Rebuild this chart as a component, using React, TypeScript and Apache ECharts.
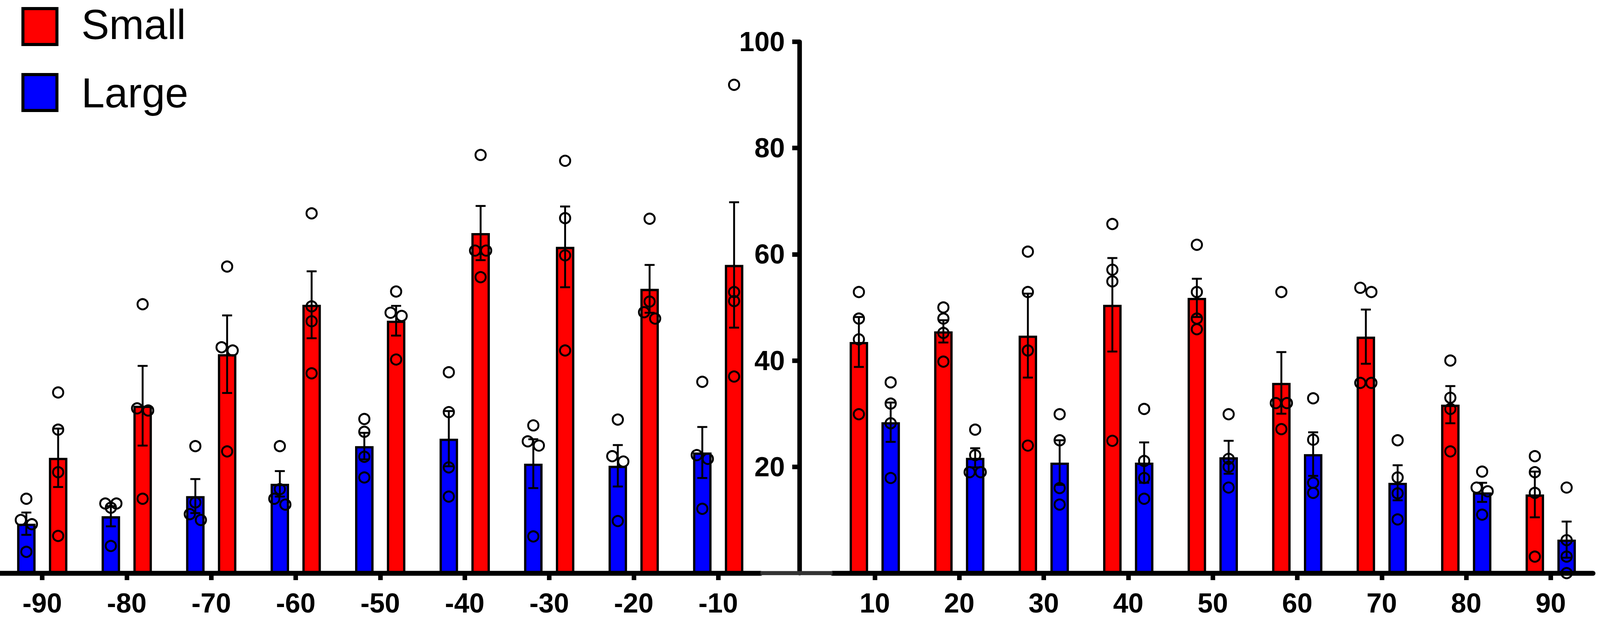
import React, { useEffect, useRef } from 'react';
import * as echarts from 'echarts';

// ---------- data ----------
const leftCategories = ['-90', '-80', '-70', '-60', '-50', '-40', '-30', '-20', '-10'];
const rightCategories = ['10', '20', '30', '40', '50', '60', '70', '80', '90'];
const yTickValues = [20, 40, 60, 80, 100];

// left half (-90 .. -10): Large bar first, then Small
const largeMeanLeft = [9.3, 10.7, 14.5, 16.8, 23.9, 25.3, 20.6, 20.2, 22.7];
const largeSemLeft = [2.1, 1.9, 3.2, 2.4, 2.5, 5.2, 4.6, 3.9, 4.8];
const smallMeanLeft = [21.7, 31.5, 41.2, 50.5, 47.5, 64.0, 61.4, 53.5, 58.0];
const smallSemLeft = [5.5, 7.5, 7.3, 6.3, 2.8, 5.1, 7.6, 4.5, 11.8];

const largePointsLeft = [
  [14, 10, 9.2, 4],
  [13.1, 13.1, 12.3, 5.1],
  [23.9, 13.3, 11.1, 10],
  [23.9, 15.8, 14, 12.9],
  [29, 26.6, 21.9, 18],
  [37.8, 30.3, 19.9, 14.4],
  [27.8, 24.8, 24, 6.9],
  [28.9, 22, 21, 9.8],
  [36, 22.2, 21.5, 12.1],
];
const smallPointsLeft = [
  [34, 27, 19, 7],
  [50.6, 31, 30.6, 14],
  [57.7, 42.5, 41.9, 22.9],
  [67.7, 50.2, 47.4, 37.6],
  [53, 49, 48.4, 40.2],
  [78.7, 60.7, 60.7, 55.7],
  [77.6, 66.8, 59.8, 41.9],
  [66.7, 51.1, 49.1, 47.9],
  [91.9, 52.9, 51.2, 37],
];

// right half (10 .. 90): Small bar first, then Large
const smallMeanRight = [43.5, 45.5, 44.7, 50.5, 51.8, 35.8, 44.5, 31.7, 14.8];
const smallSemRight = [4.7, 2.1, 7.9, 8.8, 3.6, 5.8, 5.1, 3.5, 4.3];
const largeMeanRight = [28.4, 21.7, 20.8, 20.8, 21.8, 22.4, 17.0, 15.2, 6.3];
const largeSemRight = [3.7, 1.8, 4.2, 3.8, 3.1, 4.1, 3.3, 1.8, 3.4];

const smallPointsRight = [
  [52.9, 47.9, 44, 29.9],
  [50, 47.9, 45.2, 39.8],
  [60.5, 52.9, 41.9, 24],
  [65.7, 57.1, 54.9, 24.9],
  [61.8, 52.9, 47.9, 45.9],
  [52.9, 32, 32, 27.1],
  [53.7, 52.9, 35.8, 35.8],
  [40, 33, 30.9, 22.9],
  [22, 19, 15.1, 3.1],
];
const largePointsRight = [
  [35.9, 31.9, 28.2, 17.9],
  [27, 22.2, 19, 19],
  [29.9, 25, 16, 12.9],
  [30.9, 21.1, 17.9, 14],
  [29.9, 21.5, 20, 16.1],
  [32.9, 25.1, 17, 15.1],
  [25, 18, 15, 10.1],
  [19.1, 16.1, 15.4, 11],
  [16.1, 6.2, 3.1, 0],
];

// ---------- styling constants (designed for a 4328 x 1583 canvas) ----------
const RED = '#ff0000';
const BLUE = '#0000ff';
const FONT = '"Liberation Sans", Arial, Helvetica, sans-serif';
const DW = 4328;
const DH = 1583;

function dodgeOffsets(vals: number[]): number[] {
  const order = vals.map((_, i) => i).sort((a, b) => vals[b] - vals[a]);
  const out = new Array(vals.length).fill(0);
  let cluster: number[] = [];
  const flush = () => {
    const n = cluster.length;
    const pattern = n === 1 ? [0] : n === 2 ? [-15, 15] : n === 3 ? [-15, 15, 0] : [-15, 15, -15, 15];
    cluster.forEach((ii, k) => (out[ii] = pattern[k] ?? 0));
    cluster = [];
  };
  order.forEach((ii) => {
    if (cluster.length && vals[cluster[cluster.length - 1]] - vals[ii] >= 1.3) flush();
    cluster.push(ii);
  });
  if (cluster.length) flush();
  return out;
}

function pointData(groups: number[][]) {
  const data: number[][] = [];
  groups.forEach((vals, i) => {
    const d = dodgeOffsets(vals);
    vals.forEach((v, k) => data.push([i, v, d[k]]));
  });
  return data;
}

function errData(means: number[], sems: number[]) {
  return means.map((m, i) => [i, m, sems[i]]);
}

function buildOption(kx: number, ky: number) {
  const k = (kx + ky) / 2;
  const X = (v: number) => v * kx;
  const Y = (v: number) => v * ky;
  const S = (v: number) => v * k;

  const GRID_TOP = Y(107);
  const GRID_BOTTOM = Y(115);
  const LEFT_GRID_LEFT = X(0);
  const GRID_WIDTH = X(2057);
  const RIGHT_GRID_LEFT = X(2252);
  const Y_AXIS_X = X(2163);
  const BAR_OFFSET = X(43);

  const barSeries = (name: string, color: string, data: number[], axis: number) => ({
    type: 'bar',
    name,
    xAxisIndex: axis,
    yAxisIndex: axis,
    data,
    barWidth: X(50),
    barGap: '72%',
    z: 2,
    itemStyle: { color, borderColor: '#000', borderWidth: S(6) },
  });

  const errSeries = (means: number[], sems: number[], axis: number, offset: number) => ({
    type: 'custom',
    xAxisIndex: axis,
    yAxisIndex: axis,
    z: 3,
    silent: true,
    dimensions: ['x', 'y', 'e'],
    encode: { x: 0, y: 1 },
    data: errData(means, sems),
    renderItem: (params: any, api: any) => {
      const i = api.value(0);
      const m = api.value(1);
      const e = api.value(2);
      const x = api.coord([i, m])[0] + offset;
      const yt = api.coord([i, m + e])[1];
      const yb = api.coord([i, m - e])[1];
      const st = { stroke: '#000', lineWidth: S(5) };
      const cap = X(13.5);
      return {
        type: 'group',
        children: [
          { type: 'line', shape: { x1: x, y1: yt, x2: x, y2: yb }, style: st },
          { type: 'line', shape: { x1: x - cap, y1: yt, x2: x + cap, y2: yt }, style: st },
          { type: 'line', shape: { x1: x - cap, y1: yb, x2: x + cap, y2: yb }, style: st },
        ],
      };
    },
  });

  const pointSeries = (groups: number[][], axis: number, offset: number) => ({
    type: 'custom',
    xAxisIndex: axis,
    yAxisIndex: axis,
    z: 4,
    silent: true,
    dimensions: ['x', 'y', 'd'],
    encode: { x: 0, y: 1 },
    data: pointData(groups),
    renderItem: (params: any, api: any) => {
      const p = api.coord([api.value(0), api.value(1)]);
      return {
        type: 'circle',
        shape: { cx: p[0] + offset + X(api.value(2)), cy: p[1], r: S(13.5) },
        style: { fill: 'none', stroke: '#000', lineWidth: S(5) },
      };
    },
  });

  const xAxis = (gridIndex: number, data: string[]) => ({
    type: 'category',
    gridIndex,
    data,
    boundaryGap: true,
    axisLine: { show: true, lineStyle: { color: '#000', width: S(13) } },
    axisTick: {
      show: true,
      alignWithLabel: true,
      interval: 0,
      length: Y(18),
      lineStyle: { color: '#000', width: S(12) },
    },
    axisLabel: {
      interval: 0,
      margin: Y(42),
      fontSize: S(72),
      fontWeight: 'bold',
      color: '#000',
      fontFamily: FONT,
    },
    splitLine: { show: false },
  });

  const H = DH * ky;

  return {
    animation: false,
    backgroundColor: '#ffffff',
    textStyle: { fontFamily: FONT },
    grid: [
      { left: LEFT_GRID_LEFT, top: GRID_TOP, bottom: GRID_BOTTOM, width: GRID_WIDTH, containLabel: false },
      { left: RIGHT_GRID_LEFT, top: GRID_TOP, bottom: GRID_BOTTOM, width: GRID_WIDTH, containLabel: false },
    ],
    xAxis: [xAxis(0, leftCategories), xAxis(1, rightCategories)],
    yAxis: [
      { type: 'value', gridIndex: 0, min: 0, max: 100, interval: 20, show: false, splitLine: { show: false } },
      {
        type: 'value',
        gridIndex: 1,
        min: 0,
        max: 100,
        interval: 20,
        position: 'left',
        offset: RIGHT_GRID_LEFT - Y_AXIS_X,
        axisLine: { show: true, lineStyle: { color: '#000', width: S(12) } },
        axisTick: { show: true, length: X(20), customValues: yTickValues, lineStyle: { color: '#000', width: S(12) } },
        axisLabel: {
          customValues: yTickValues,
          margin: X(40),
          fontSize: S(72),
          fontWeight: 'bold',
          color: '#000',
          fontFamily: FONT,
        },
        splitLine: { show: false },
      },
    ],
    graphic: [
      {
        type: 'line',
        z: 1,
        shape: { x1: LEFT_GRID_LEFT + GRID_WIDTH, y1: H - GRID_BOTTOM, x2: RIGHT_GRID_LEFT, y2: H - GRID_BOTTOM },
        style: { stroke: '#333333', lineWidth: S(11) },
      },
      {
        type: 'rect',
        shape: { x: X(62), y: Y(22), width: X(92), height: Y(92) },
        style: { fill: RED, stroke: '#000', lineWidth: S(8) },
      },
      {
        type: 'rect',
        shape: { x: X(62), y: Y(191), width: X(92), height: Y(92) },
        style: { fill: BLUE, stroke: '#000', lineWidth: S(8) },
      },
      {
        type: 'text',
        x: X(220),
        y: Y(63),
        style: { text: 'Small', fontSize: S(110), fontFamily: FONT, fill: '#000', verticalAlign: 'middle' },
      },
      {
        type: 'text',
        x: X(220),
        y: Y(238),
        style: { text: 'Large', fontSize: S(110), fontFamily: FONT, fill: '#000', verticalAlign: 'middle' },
      },
    ],
    series: [
      barSeries('Large', BLUE, largeMeanLeft, 0),
      barSeries('Small', RED, smallMeanLeft, 0),
      errSeries(largeMeanLeft, largeSemLeft, 0, -BAR_OFFSET),
      errSeries(smallMeanLeft, smallSemLeft, 0, BAR_OFFSET),
      pointSeries(largePointsLeft, 0, -BAR_OFFSET),
      pointSeries(smallPointsLeft, 0, BAR_OFFSET),
      barSeries('Small', RED, smallMeanRight, 1),
      barSeries('Large', BLUE, largeMeanRight, 1),
      errSeries(smallMeanRight, smallSemRight, 1, -BAR_OFFSET),
      errSeries(largeMeanRight, largeSemRight, 1, BAR_OFFSET),
      pointSeries(smallPointsRight, 1, -BAR_OFFSET),
      pointSeries(largePointsRight, 1, BAR_OFFSET),
    ],
  };
}

export default function App() {
  const ref = useRef<HTMLDivElement>(null);
  const vw = typeof window !== 'undefined' ? window.innerWidth : DW;
  const vh = typeof window !== 'undefined' ? window.innerHeight : DH;

  useEffect(() => {
    if (!ref.current) return;
    const chart = echarts.init(ref.current, null, { renderer: 'svg' });
    chart.setOption(buildOption(vw / DW, vh / DH) as any);
    return () => chart.dispose();
  }, [vw, vh]);

  return (
    <div
      ref={ref}
      style={{ position: 'absolute', left: 0, top: 0, width: vw, height: vh, background: '#fff', overflow: 'hidden' }}
    />
  );
}
